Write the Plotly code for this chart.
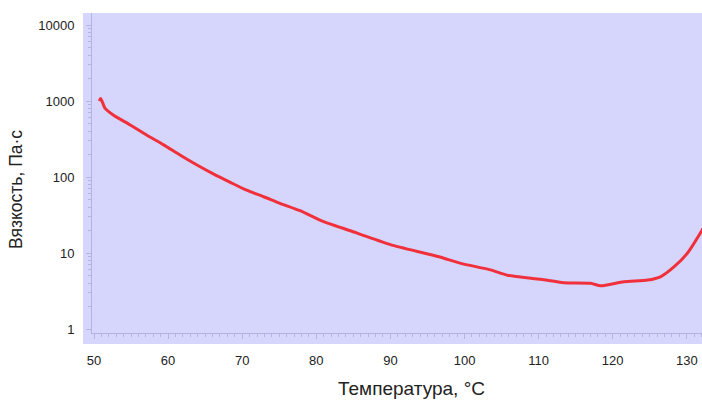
import plotly.graph_objects as go

# Data
temperature = [50.7, 50.9, 51.5, 52.6, 54.9, 57.1, 59.4, 61.6, 63.9, 66.1, 68.4, 70.6,
               72.9, 75.1, 77.8, 80.9, 85.5, 90.0, 94.5, 96.8, 99.5, 103.5, 105.8,
               110.3, 113.4, 117.0, 118.4, 121.5, 124.7, 126.5, 128.3, 130.1, 132.2]
viscosity = [1000, 1080, 800, 655, 483, 357, 265, 195, 144, 110, 85, 67,
             55, 45, 36, 26, 18.3, 12.9, 10.0, 8.8, 7.3, 6.0, 5.1,
             4.5, 4.07, 4.0, 3.7, 4.2, 4.4, 4.9, 6.6, 10, 21]

x_ticks = [50, 60, 70, 80, 90, 100, 110, 120, 130]
y_ticks = [1, 10, 100, 1000, 10000]
y_tick_text = ["1", "10", "100", "1000", "10000"]
y_minor = [m * 10 ** d for d in range(0, 4) for m in range(2, 10)]

BG = "#d6d6fc"
AXIS = "#b4b4e2"
TXT = "#222222"

fig = go.Figure()
fig.add_trace(go.Scatter(
    x=temperature, y=viscosity, mode="lines",
    line=dict(color="#f0303a", width=3, shape="spline", smoothing=0.6),
    hoverinfo="skip", showlegend=False,
))

# lavender area extending slightly beyond the axis lines
fig.add_shape(type="rect", xref="paper", yref="paper",
              x0=-9 / 610, x1=1, y0=-11 / 320, y1=1,
              fillcolor=BG, line=dict(width=0), layer="below")

fig.add_annotation(text="Температура, °C", xref="paper", yref="paper",
                   x=(411 - 92) / 610, y=(333 - 388) / 320,
                   xanchor="center", yanchor="middle", showarrow=False,
                   font=dict(size=19, color=TXT))
fig.add_annotation(text="Вязкость, Па·с", xref="paper", yref="paper",
                   x=(16 - 92) / 610, y=(333 - 190) / 320, textangle=-90,
                   xanchor="center", yanchor="middle", showarrow=False,
                   font=dict(size=17.5, color=TXT))

fig.update_layout(
    width=702, height=401,
    margin=dict(l=92, r=0, t=13, b=68),
    paper_bgcolor="white", plot_bgcolor=BG,
    font=dict(family="Liberation Sans, Arial, sans-serif", color=TXT),
    showlegend=False,
)
fig.update_xaxes(
    range=[49.73, 132.05], tickvals=x_ticks, ticktext=[str(v) for v in x_ticks],
    showgrid=False, zeroline=False, showline=True, linecolor=AXIS, linewidth=1,
    ticks="outside", ticklen=5, tickcolor=AXIS, tickwidth=1,
    minor=dict(dtick=1, ticks="outside", ticklen=3, tickcolor=AXIS, showgrid=False),
    tickfont=dict(size=13, color=TXT), ticklabelstandoff=10,
)
fig.update_yaxes(
    type="log", range=[-0.0526, 4.158], tickvals=y_ticks, ticktext=y_tick_text,
    showgrid=False, zeroline=False, showline=True, linecolor=AXIS, linewidth=1,
    ticks="outside", ticklen=5, tickcolor=AXIS, tickwidth=1,
    minor=dict(tickvals=y_minor, ticks="outside", ticklen=3, tickcolor=AXIS, showgrid=False),
    tickfont=dict(size=13, color=TXT), ticklabelstandoff=9,
)

fig.write_html("out.html")
